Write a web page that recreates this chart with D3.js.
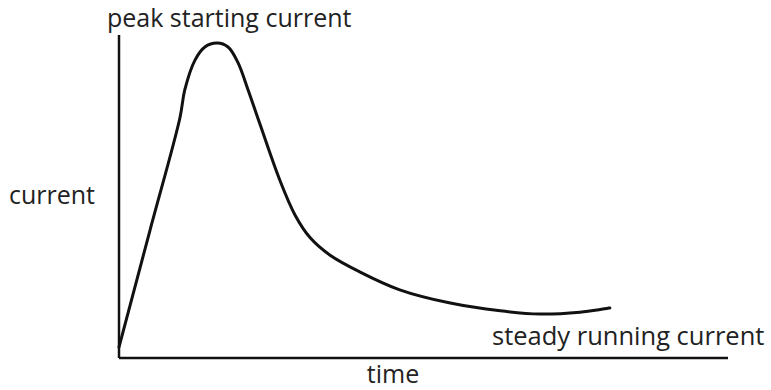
<!DOCTYPE html>
<html><head><meta charset="utf-8">
<script src="https://cdn.jsdelivr.net/npm/d3@7"></script>
<style>html,body{margin:0;padding:0;background:#fff;}svg{display:block;}</style>
</head><body>
<svg id="c" width="771" height="390"></svg>
<script>
const time =    [0, 0.51, 1.0, 1.08, 1.25, 1.41, 1.61, 1.79, 1.95, 2.12, 2.32, 2.64, 2.89, 3.14, 3.46, 3.96, 4.61, 5.44, 6.26, 6.91, 7.57, 8.06];
const current = [3.4, 39.6, 74.3, 83.0, 92.3, 96.3, 97.5, 96.3, 91.6, 83.0, 72.1, 55.1, 44.3, 37.2, 31.9, 26.6, 21.1, 17.0, 14.6, 13.6, 14.2, 15.5];
const labels = {peak: "peak starting current", y: "current", steady: "steady running current", x: "time"};

const svg = d3.select("#c");
const x = d3.scaleLinear().domain([0, 10]).range([119, 728]);
const y = d3.scaleLinear().domain([0, 100]).range([358, 35]);

svg.append("line").attr("x1", x(0)).attr("x2", x(0)).attr("y1", y(100)).attr("y2", y(0))
  .attr("stroke", "#111").attr("stroke-width", 2.5);
svg.append("line").attr("x1", x(0)).attr("x2", x(10)).attr("y1", y(0)).attr("y2", y(0))
  .attr("stroke", "#111").attr("stroke-width", 2.5);

const line = d3.line().x((d, i) => x(time[i])).y((d, i) => y(current[i])).curve(d3.curveCatmullRom.alpha(0.5));
svg.append("path").attr("d", line(current)).attr("fill", "none")
  .attr("stroke", "#111").attr("stroke-width", 3).attr("stroke-linejoin", "round").attr("stroke-linecap", "round");

const font = "'Open Sans', sans-serif";
function txt(s, px, py, anchor, size) {
  return svg.append("text").attr("x", px).attr("y", py).attr("text-anchor", anchor || "start")
    .attr("font-family", font).attr("font-size", size || 25).attr("fill", "#222").text(s);
}
txt(labels.peak, 107, 27);
txt(labels.y, 9, 204);
txt(labels.steady, 492, 345, "start", 25.5);
txt(labels.x, 393, 383, "middle");
</script>
</body></html>
